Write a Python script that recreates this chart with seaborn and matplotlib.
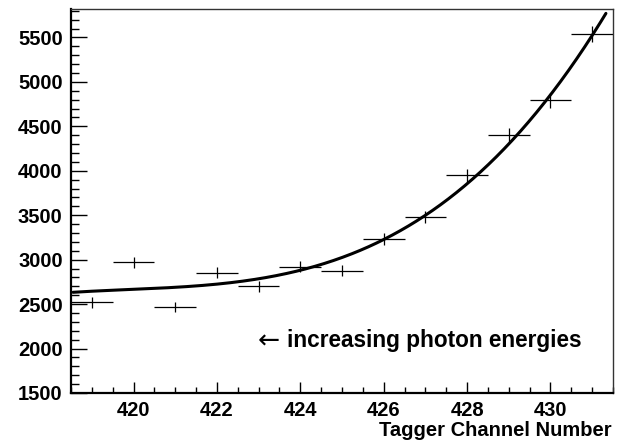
import numpy as np
import pandas as pd
import matplotlib
matplotlib.use("Agg")
import matplotlib.pyplot as plt
import seaborn as sns

# ---- data ----
channels = [419, 420, 421, 422, 423, 424, 425, 426, 427, 428, 429, 430, 431]
counts = [2521, 2972, 2468, 2851, 2701, 2922, 2877, 3234, 3482, 3947, 4398, 4792, 5535]
count_err = [60, 62, 60, 62, 62, 64, 64, 68, 70, 74, 80, 84, 90]
channel_halfwidth = [0.5] * len(channels)

# cubic fit curve parameters, f = p0 + p1*t + p2*t^2 + p3*t^3 with t = x - 419
fit_origin = 419.0
fit_params = [2645.0, 24.34, -4.99, 1.912]
fit_range = [418.55, 431.33]

x_ticks = [420, 422, 424, 426, 428, 430]
y_ticks = [1500, 2000, 2500, 3000, 3500, 4000, 4500, 5000, 5500]

sns.set_theme(style="ticks")
plt.rcParams['font.family'] = ['Liberation Sans', 'DejaVu Sans']

fig = plt.figure(figsize=(6.32, 4.44), dpi=100)
ax = fig.add_axes([71 / 632, 1 - 393 / 444, (613 - 71) / 632, (393 - 9) / 444])

df = pd.DataFrame({"channel": channels, "counts": counts,
                   "err": count_err, "xerr": channel_halfwidth})

# data points with error bars
ax.errorbar(df["channel"], df["counts"], xerr=df["xerr"], yerr=df["err"],
            fmt="none", ecolor="black", elinewidth=0.9, capsize=0)

# fit curve
xs = np.linspace(fit_range[0], fit_range[1], 400)
t = xs - fit_origin
ys = fit_params[0] + fit_params[1] * t + fit_params[2] * t ** 2 + fit_params[3] * t ** 3
sns.lineplot(x=xs, y=ys, ax=ax, color="black", linewidth=2.2, sort=False)

ax.set_xlim(418.5, 431.5)
ax.set_ylim(1500, 5820)
ax.set_xticks(x_ticks)
ax.set_yticks(y_ticks)
ax.set_xticks(np.arange(418.5, 431.6, 0.5), minor=True)
ax.set_yticks(np.arange(1500, 5801, 100), minor=True)

ax.tick_params(axis="both", which="both", direction="in", color="black",
               width=1.0, labelsize=14.5, labelcolor="black")
ax.tick_params(axis="y", which="major", length=11.2, pad=6)
ax.tick_params(axis="y", which="minor", length=5.6)
ax.tick_params(axis="x", which="major", length=8, pad=6)
ax.tick_params(axis="x", which="minor", length=4)
for lab in ax.get_xticklabels() + ax.get_yticklabels():
    lab.set_fontweight("bold")

for side in ["left", "bottom"]:
    ax.spines[side].set_linewidth(1.6)
    ax.spines[side].set_color("black")
for side in ["top", "right"]:
    ax.spines[side].set_linewidth(1.0)
    ax.spines[side].set_color("#333333")

ax.set_xlabel("")
ax.set_ylabel("")

fig.text(612 / 632, 1 - 436 / 444, "Tagger Channel Number", ha="right",
         va="baseline", fontsize=14.5, fontweight="bold", color="black")

ax.text(423.68, 2021, "increasing photon energies", ha="left", va="baseline",
        fontsize=16.3, fontweight="bold", color="black")
ax.text(423.24, 2077, "\u2190", ha="center", va="center", fontsize=19,
        family=["DejaVu Sans"], color="black")

fig.savefig("out.png", dpi=100)
